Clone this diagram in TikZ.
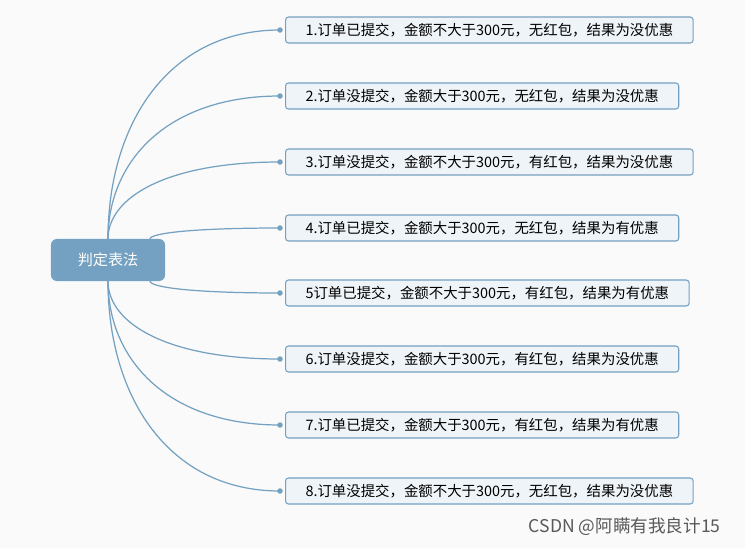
\documentclass[tikz,border=0pt]{standalone}
\usepackage{fontspec}
\setmainfont{Noto Sans CJK SC}
\usetikzlibrary{positioning,calc}
\definecolor{mapblue}{RGB}{116,161,193}
\definecolor{boxfill}{RGB}{239,244,248}
\definecolor{bgcol}{RGB}{250,250,250}

\begin{document}
\begin{tikzpicture}[
    x=0.01cm, y=-0.01cm,
    root/.style={rectangle, fill=mapblue, rounded corners=0.6mm, minimum width=1.14cm, minimum height=0.42cm, text=white, font=\fontsize{4.3}{5}\selectfont},
    leaf/.style={rectangle, draw=mapblue, fill=boxfill, rounded corners=0.3mm, minimum height=0.26cm, inner ysep=0pt, anchor=west, inner xsep=0.2cm, line width=0.3pt, font=\fontsize{4.1}{4.6}\selectfont},
    link/.style={mapblue, line width=0.35pt},
    dot/.style={circle, fill=mapblue, inner sep=0pt, minimum size=0.055cm}
]
    \fill[bgcol] (0,0) rectangle (745,548);
    \useasboundingbox (0,0) rectangle (745,548);

    % Root
    \node[root] (rule) at (108,260) {判定表法};
    \coordinate (up) at (108,239);
    \coordinate (upr) at (150,239);
    \coordinate (dn) at (108,281);
    \coordinate (dnr) at (150,281);

    % Leaves
    \node[leaf, minimum width=3.98cm] (c1) at (285,30) {1.订单已提交，金额不大于300元，无红包，结果为没优惠};
    \node[leaf, minimum width=3.83cm] (c2) at (285,96) {2.订单没提交，金额大于300元，无红包，结果为没优惠};
    \node[leaf, minimum width=3.98cm] (c3) at (285,162) {3.订单没提交，金额不大于300元，有红包，结果为没优惠};
    \node[leaf, minimum width=3.83cm] (c4) at (285,228) {4.订单已提交，金额大于300元，无红包，结果为有优惠};
    \node[leaf, minimum width=3.95cm] (c5) at (285,293) {5订单已提交，金额不大于300元，有红包，结果为有优惠};
    \node[leaf, minimum width=3.83cm] (c6) at (285,359) {6.订单没提交，金额大于300元，有红包，结果为没优惠};
    \node[leaf, minimum width=3.83cm] (c7) at (285,425) {7.订单已提交，金额大于300元，有红包，结果为有优惠};
    \node[leaf, minimum width=3.98cm] (c8) at (285,491) {8.订单没提交，金额不大于300元，无红包，结果为没优惠};

    % Connectors
    \foreach \i/\s in {1/up,2/up,3/up,4/upr,5/dnr,6/dn,7/dn,8/dn}{
        \coordinate (p\i) at ([xshift=-0.05cm]c\i.west);
        \draw[link] (\s) .. controls ($(\s)!0.55!(\s |- p\i)$) and ($(p\i)!0.65!(\s |- p\i)$) .. (p\i);
        \node[dot] (d\i) at (p\i) {};
    }

    % Watermark
    \node[text=black!65, font=\fontsize{5}{6}\selectfont, anchor=east] (mark) at (733,527) {CSDN @阿瞒有我良计15};
\end{tikzpicture}
\end{document}
